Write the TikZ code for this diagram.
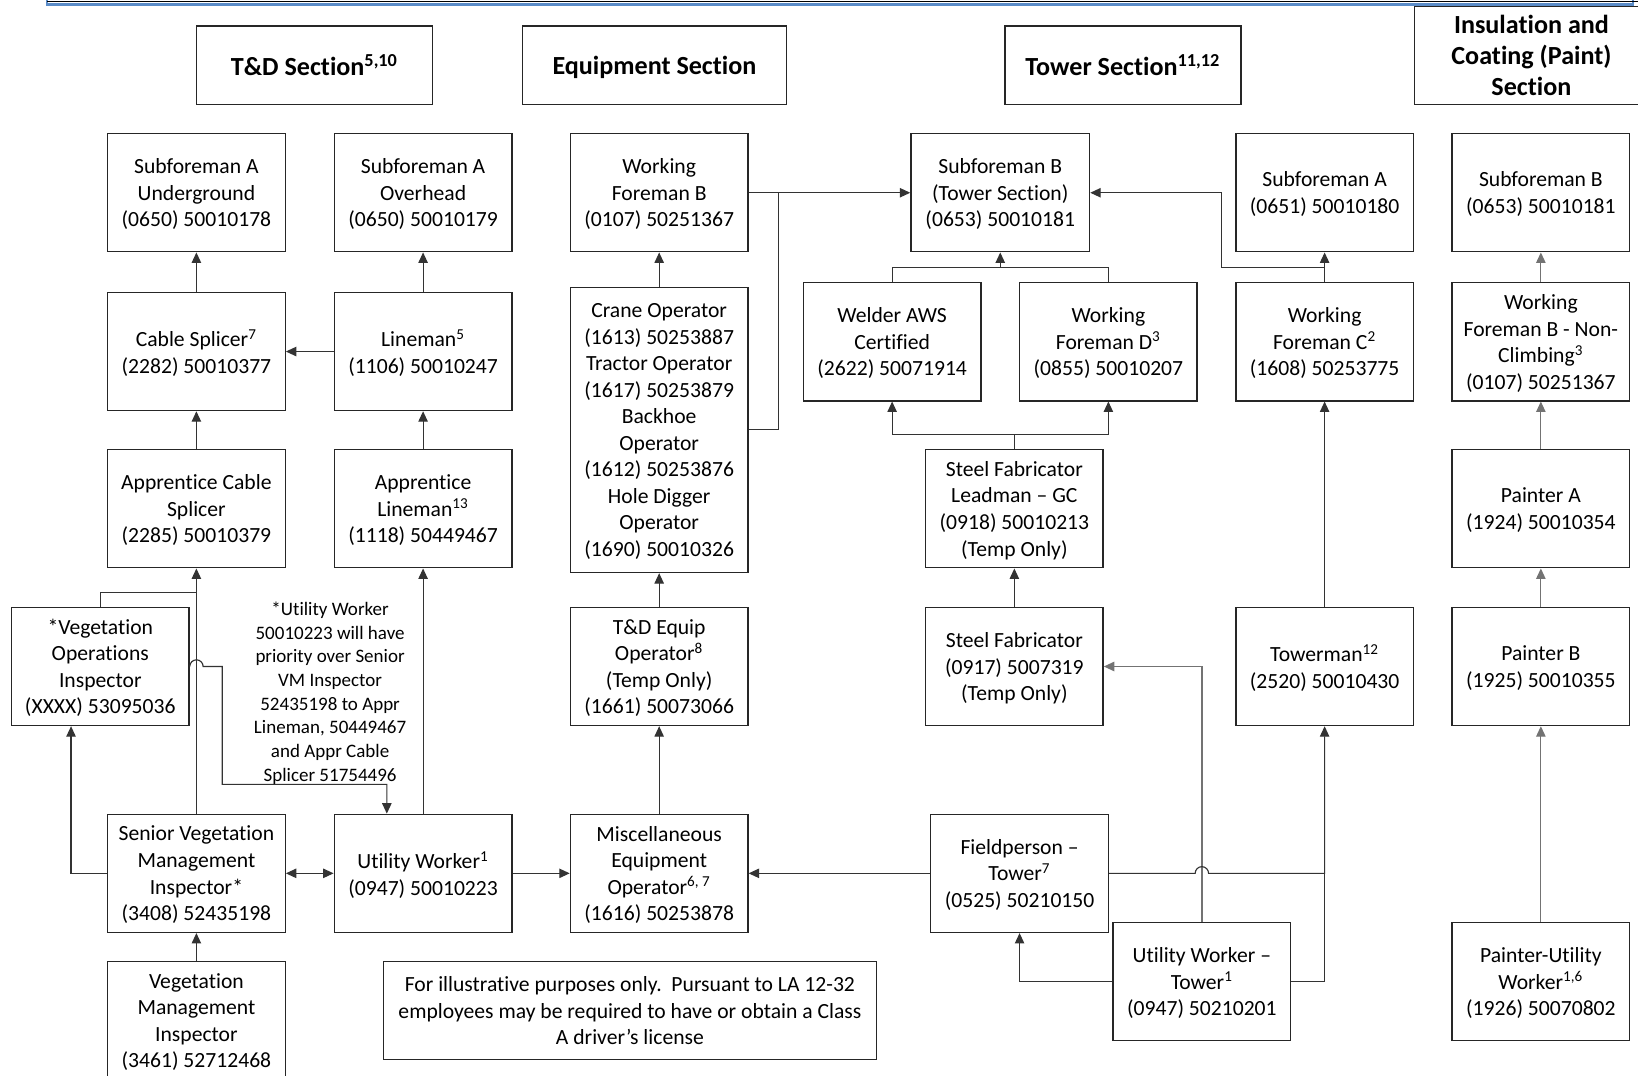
\documentclass[tikz,border=0pt]{standalone}
\usepackage{fontspec}
\setmainfont{Carlito}[Ligatures=NoCommon]
\usetikzlibrary{arrows.meta}
\newcommand\bxfont{\fontsize{10.35pt}{12.7pt}\selectfont}
\newcommand\hdfont{\fontsize{12.5pt}{14.75pt}\selectfont\bfseries}
\newcommand\anfont{\fontsize{9.1pt}{11.35pt}\selectfont}
\definecolor{bandblue}{RGB}{91,140,200}
\begin{document}
\begin{tikzpicture}[x=0.5pt,y=-0.5pt,
  box/.style={draw=black!85, line width=0.65pt, align=center, inner sep=0pt,
    font=\bxfont, minimum width=85pt, minimum height=56.5pt, fill=white, text depth=-1.5pt},
  hdr/.style={draw=black!85, line width=0.65pt, align=center, inner sep=0pt,
    fill=white, font=\hdfont, minimum height=37.5pt, text depth=0pt},
  conn/.style={draw=black!80, line width=0.55pt},
  gconn/.style={draw=black!55, line width=0.6pt},
  arr/.style={conn, -{Triangle[length=5pt,width=4.5pt]}},
  garr/.style={gconn, -{Triangle[length=5pt,width=4.5pt]}},
  darr/.style={conn, {Triangle[length=5pt,width=4.5pt]}-{Triangle[length=5pt,width=4.5pt]}},
]
\useasboundingbox (0,0) rectangle (1568,1030);

% top band
\draw[bandblue, line width=1.1pt] (45,-10) -- (45,4.3) -- (1563,4.3) -- (1563,-10);
\draw[black, line width=0.5pt] (45,1) -- (1568,1);

% headers
\node[hdr, minimum width=113pt] (tdH) at (301,62.5) {T\&D Section\textsuperscript{5,10}};
\node[hdr, minimum width=126.5pt] (eqH) at (626.5,62.5) {Equipment Section};
\node[hdr, minimum width=113pt] (twH) at (1075,62.5) {Tower Section\textsuperscript{11,12}};
\node[hdr, minimum width=112pt, minimum height=47pt] (insH) at (1466,53) {Insulation and\\Coating (Paint)\\Section};

% row 1
\node[box] (ugA) at (188,184.5) {Subforeman A\\Underground\\(0650) 50010178};
\node[box] (ohA) at (405,184.5) {Subforeman A\\Overhead\\(0650) 50010179};
\node[box] (wfB) at (631,184.5) {Working\\Foreman B\\(0107) 50251367};
\node[box, minimum width=85.5pt] (sbT) at (957.5,184.5) {Subforeman B\\(Tower Section)\\(0653) 50010181};
\node[box] (sA) at (1268,184.5) {Subforeman A\\(0651) 50010180};
\node[box] (sB) at (1475,184.5) {Subforeman B\\(0653) 50010181};

% row 2
\node[box] (cable) at (188,336.5) {Cable Splicer\textsuperscript{7}\\(2282) 50010377};
\node[box] (line) at (405,336.5) {Lineman\textsuperscript{5}\\(1106) 50010247};
\node[box, minimum height=136.5pt] (crane) at (631,411.5) {Crane Operator\\(1613) 50253887\\Tractor Operator\\(1617) 50253879\\Backhoe\\Operator\\(1612) 50253876\\Hole Digger\\Operator\\(1690) 50010326};
\node[box] (weld) at (854,327.2) {Welder AWS\\Certified\\(2622) 50071914};
\node[box] (wfD) at (1061,327.2) {Working\\Foreman D\textsuperscript{3}\\(0855) 50010207};
\node[box] (wfC) at (1268,327.2) {Working\\Foreman C\textsuperscript{2}\\(1608) 50253775};
\node[box] (wfNC) at (1475,327.2) {Working\\Foreman B - Non-\\Climbing\textsuperscript{3}\\(0107) 50251367};

% row 3
\node[box] (appCS) at (188,487) {Apprentice Cable\\Splicer\\(2285) 50010379};
\node[box] (appL) at (405,487) {Apprentice\\Lineman\textsuperscript{13}\\(1118) 50449467};
\node[box] (lead) at (971,487) {Steel Fabricator\\Leadman -- GC\\(0918) 50010213\\(Temp Only)};
\node[box] (pA) at (1475,487) {Painter A\\(1924) 50010354};

% row 4
\node[box] (vegOps) at (96,638) {*Vegetation\\Operations\\Inspector\\(XXXX) 53095036};
\node[box] (tdEq) at (631,638) {T\&D Equip\\Operator\textsuperscript{8}\\(Temp Only)\\(1661) 50073066};
\node[box] (steel) at (971,638) {Steel Fabricator\\(0917) 5007319\\(Temp Only)};
\node[box] (tower) at (1268,638) {Towerman\textsuperscript{12}\\(2520) 50010430};
\node[box] (pB) at (1475,638) {Painter B\\(1925) 50010355};

% row 5
\node[box] (senVeg) at (188,836) {Senior Vegetation\\Management\\Inspector*\\(3408) 52435198};
\node[box] (uw) at (405,836) {Utility Worker\textsuperscript{1}\\(0947) 50010223};
\node[box] (misc) at (631,836) {Miscellaneous\\Equipment\\Operator\textsuperscript{6, 7}\\(1616) 50253878};
\node[box] (field) at (976,836) {Fieldperson --\\Tower\textsuperscript{7}\\(0525) 50210150};

% row 6
\node[box] (vegMg) at (188,977) {Vegetation\\Management\\Inspector\\(3461) 52712468};
\node[box, minimum width=236pt, minimum height=47pt, text depth=-2pt] (note) at (603,967.5) {For illustrative purposes only.\ \ Pursuant to LA 12-32\\employees may be required to have or obtain a Class\\A driver’s license};
\node[box] (uwt) at (1150.5,939.7) {Utility Worker --\\Tower\textsuperscript{1}\\(0947) 50210201};
\node[box] (pu) at (1475,939.7) {Painter-Utility\\Worker\textsuperscript{1,6}\\(1926) 50070802};

% annotation
\node[font=\anfont, align=center, inner sep=0pt] (ann) at (316,663.5) {*Utility Worker\\50010223 will have\\priority over Senior\\VM Inspector\\52435198 to Appr\\Lineman, 50449467\\and Appr Cable\\Splicer 51754496};

% T&D connectors
\draw[arr] (cable.north) -- (ugA.south);
\draw[arr] (line.north) -- (ohA.south);
\draw[arr] (line.west) -- (cable.east);
\draw[arr] (appCS.north) -- (cable.south);
\draw[arr] (appL.north) -- (line.south);
\draw[arr] (senVeg.north) -- (appCS.south);
\draw[conn] (vegOps.north) -- (96,567) -- (188,567);
\draw[arr] (senVeg.west) -| ([xshift=-14pt]vegOps.south);
\draw[darr] (senVeg.east) -- (uw.west);
\draw[arr] (uw.north) -- (appL.south);
\draw[arr] (vegMg.north) -- (senVeg.south);
\draw[arr] (vegOps.east) arc[start angle=180, end angle=0, radius=3.2pt] -- (212.7,638) -- (212.7,750.8) -- (370.3,750.8) -- ([xshift=-17.35pt]uw.north);

% Equipment connectors
\draw[arr] (crane.north) -- (wfB.south);
\draw[arr] (wfB.east) -- (sbT.west);
\draw[conn] (crane.east) -| (745,184.5);
\draw[arr] (tdEq.north) -- (crane.south);
\draw[arr] (misc.north) -- (tdEq.south);
\draw[arr] (uw.east) -- (misc.west);
\draw[arr] (field.west) -- (misc.east);

% Tower connectors
\coordinate (jT) at (957.5,256);
\draw[conn] (weld.north) |- (jT) -| (wfD.north);
\draw[arr] (jT) -- (sbT.south);
\coordinate (jL) at (971,416);
\draw[conn] (lead.north) -- (jL);
\draw[arr] (jL) -| (weld.south);
\draw[arr] (jL) -| (wfD.south);
\draw[arr] (steel.north) -- (lead.south);
\draw[garr] (uwt.north) |- (steel.east);
\draw[arr] (field.east) -- (1144.1,836) arc[start angle=180, end angle=0, radius=3.2pt] -- (1268,836) -- (tower.south);
\draw[conn] (uwt.east) -| (1268,836);
\draw[arr] (uwt.west) -| (field.south);
\draw[arr] (tower.north) -- (wfC.south);
\draw[arr] (wfC.north) -- (sA.south);
\coordinate (jC) at (1268,256);
\draw[arr] (jC) -- (1169,256) -- (1169,184.5) -- (sbT.east);

% Paint connectors
\draw[garr] (pu.north) -- (pB.south);
\draw[garr] (pB.north) -- (pA.south);
\draw[garr] (pA.north) -- (wfNC.south);
\draw[garr] (wfNC.north) -- (sB.south);
\end{tikzpicture}
\end{document}
